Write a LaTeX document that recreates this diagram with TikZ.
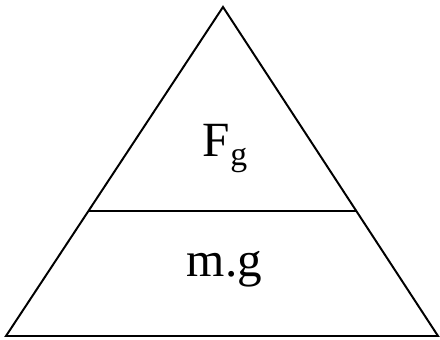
\documentclass[tikz,border=0pt]{standalone}
\usepackage{fontspec}
\setmainfont{Liberation Serif}
\usetikzlibrary{calc}
\tikzset{
  every picture/.style={line width=1.4pt},
  qty/.style={font=\fontsize{35}{40}\selectfont, inner sep=0pt, anchor=base},
  sub/.style={font=\fontsize{24}{28}\selectfont},
}
\begin{document}
\begin{tikzpicture}
  \useasboundingbox (0,0) rectangle (11,8.5);
  % the triangle
  \coordinate (apex) at (5.575,8.325);
  \coordinate (bl) at (0.15,0.1);
  \coordinate (br) at (10.95,0.1);
  \draw (bl) -- (apex) -- (br) -- cycle;
  % divider
  \coordinate (dl) at ($(bl)!0.38!(apex)$);
  \coordinate (dr) at ($(br)!0.38!(apex)$);
  \draw (dl) -- (dr);
  % texts
  \node[qty] (force) at (5.625,4.58) {F\raisebox{-0.22cm}{\fontsize{24}{28}\selectfont g}};
  \node[qty] (weight) at (5.61,1.575) {m.g};
\end{tikzpicture}
\end{document}
